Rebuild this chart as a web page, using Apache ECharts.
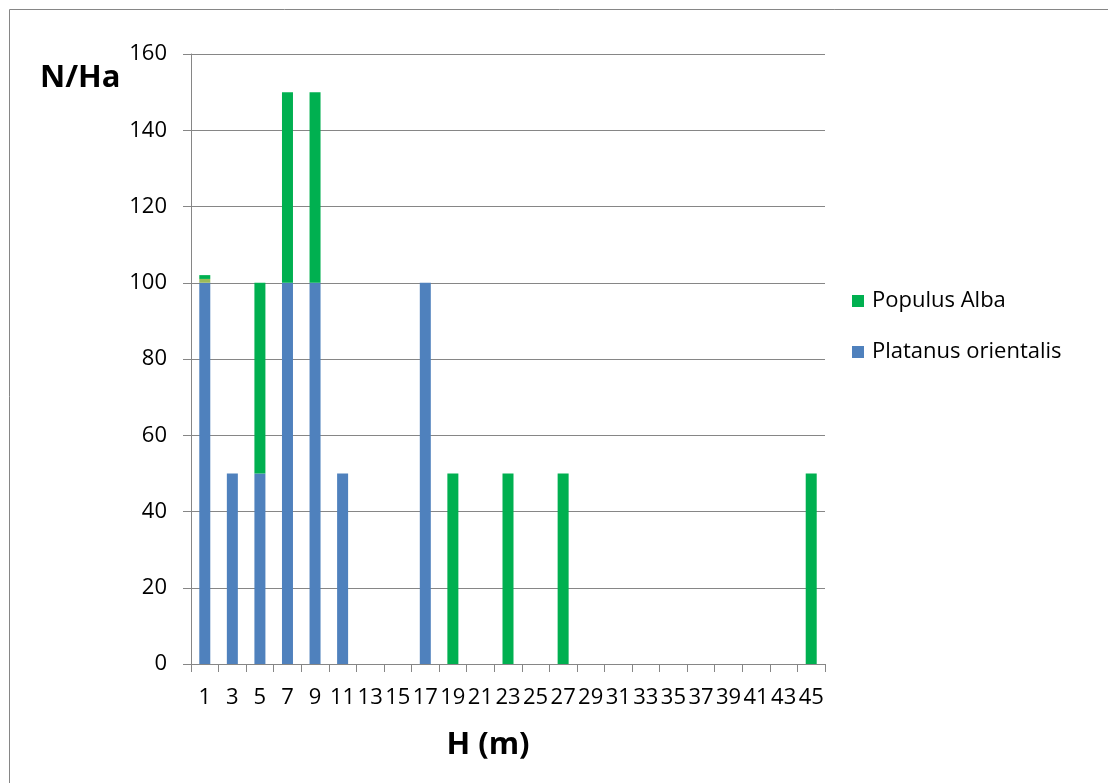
<!DOCTYPE html>
<html>
<head>
<meta charset="utf-8">
<script src="https://cdn.jsdelivr.net/npm/echarts@6/dist/echarts.min.js"></script>
<style>
  html, body { margin: 0; padding: 0; background: #fff; }
  #chart { width: 1108px; height: 783px; }
</style>
</head>
<body>
<div id="chart"></div>
<script>
// Height classes (m), odd values 1..45
const heights = ['1','3','5','7','9','11','13','15','17','19','21','23','25','27','29','31','33','35','37','39','41','43','45'];

// Stems per hectare for each height class
const platanus = [100, 50, 50, 100, 100, 50, 0, 0, 100, 0, 0, 0, 0, 0, 0, 0, 0, 0, 0, 0, 0, 0, 0];
const other    = [1, 0, 0, 0, 0, 0, 0, 0, 0, 0, 0, 0, 0, 0, 0, 0, 0, 0, 0, 0, 0, 0, 0];
const populus  = [1, 0, 50, 50, 50, 0, 0, 0, 0, 50, 0, 50, 0, 50, 0, 0, 0, 0, 0, 0, 0, 0, 50];

const yTicks = { min: 0, max: 160, interval: 20 };

const gray = '#868686';
const font = '"Open Sans", "Noto Sans", sans-serif';
const toData = arr => arr.map(v => (v === 0 ? '-' : v));

const chart = echarts.init(document.getElementById('chart'), null, { renderer: 'canvas' });
chart.setOption({
  animation: false,
  backgroundColor: '#fff',
  graphic: [
    {
      type: 'rect',
      shape: { x: 9.5, y: 9.5, width: 1200, height: 900 },
      style: { fill: 'none', stroke: gray, lineWidth: 1 },
      silent: true
    },
    {
      type: 'text',
      x: 40,
      y: 78,
      style: { text: 'N/Ha', font: 'bold 31px ' + font, fill: '#000', textVerticalAlign: 'middle' }
    },
    {
      type: 'text',
      x: 488,
      y: 745,
      style: { text: 'H (m)', font: 'bold 31px ' + font, fill: '#000', textAlign: 'center', textVerticalAlign: 'middle' }
    }
  ],
  grid: { left: 191, right: 283, top: 54, bottom: 119, containLabel: false },
  legend: {
    orient: 'vertical',
    left: 852,
    top: 290,
    padding: 0,
    itemWidth: 12,
    itemHeight: 12,
    itemGap: 29,
    icon: 'rect',
    data: ['Populus Alba', 'Platanus orientalis'],
    textStyle: { fontFamily: font, fontSize: 22, color: '#000', padding: [0, 0, 0, 3] }
  },
  xAxis: {
    type: 'category',
    data: heights,
    axisLine: { lineStyle: { color: gray, width: 1 } },
    axisTick: { show: true, length: 8, lineStyle: { color: gray } },
    axisLabel: { interval: 0, margin: 23, fontFamily: font, fontSize: 22, color: '#000' },
    splitLine: { show: false }
  },
  yAxis: {
    type: 'value',
    min: yTicks.min,
    max: yTicks.max,
    interval: yTicks.interval,
    axisLine: { show: true, lineStyle: { color: gray, width: 1 } },
    axisTick: { show: true, length: 8, lineStyle: { color: gray } },
    axisLabel: { margin: 24, fontFamily: font, fontSize: 22, color: '#000' },
    splitLine: { show: true, lineStyle: { color: gray, width: 1 } }
  },
  series: [
    {
      name: 'Platanus orientalis',
      type: 'bar',
      stack: 'n',
      barWidth: 11,
      data: toData(platanus),
      itemStyle: { color: '#4F81BD' }
    },
    {
      name: 'other',
      type: 'bar',
      stack: 'n',
      barWidth: 11,
      data: toData(other),
      itemStyle: { color: '#9BBB59' }
    },
    {
      name: 'Populus Alba',
      type: 'bar',
      stack: 'n',
      barWidth: 11,
      data: toData(populus),
      itemStyle: { color: '#00B050' }
    }
  ]
});
</script>
</body>
</html>
